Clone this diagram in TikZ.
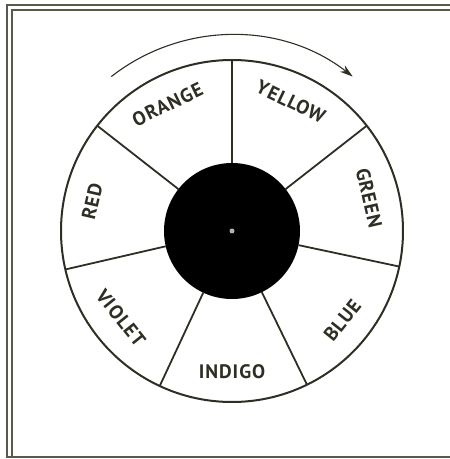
\documentclass[tikz,border=0pt]{standalone}
\usepackage{fontspec}
\newfontfamily\labfont[LetterSpace=5]{PT Sans}
\usetikzlibrary{arrows.meta}
\definecolor{framecol}{HTML}{5A5A4A}
\definecolor{inkcol}{HTML}{2E2E24}
\begin{document}
\begin{tikzpicture}[x=1pt,y=1pt,
  frameline/.style={draw=framecol,line width=1.2pt},
  rim/.style={circle,draw=inkcol,line width=2pt,inner sep=0pt,outer sep=0pt,minimum size=342pt},
  hubdisc/.style={circle,fill=black,inner sep=0pt,outer sep=0pt,minimum size=136pt},
  spoke/.style={draw=inkcol,line width=1.8pt},
  seglabel/.style={inner sep=0pt,text=inkcol,font=\labfont\bfseries\fontsize{19.5}{19.5}\selectfont},
  turnarrow/.style={draw=inkcol,line width=1.1pt,-{Stealth[length=13pt,width=8pt]}}]
\useasboundingbox (0,0) rectangle (450,459);
% frame
\draw[frameline] (450,454) -- (7,454) -- (7,2) -- (450,2);
\draw[frameline] (450,449) -- (12,449) -- (12,2);
% wheel
\coordinate (C) at (232,228);
\node[rim] (wheel) at (C) {};
\node[hubdisc] (hub) at (C) {};
\node[circle,fill=gray!60,inner sep=0pt,minimum size=5pt] (dot) at (C) {};
\foreach \k in {0,...,6}{
  \pgfmathsetmacro{\a}{90-\k*360/7}
  \draw[spoke] (hub.\a) -- (wheel.\a);
}
% labels
\begin{scope}[shift={(C)}]
\node[seglabel,rotate=25.71] (orange) at (117:142) {ORANGE};
\node[seglabel,rotate=-25.71] (yellow) at (65.5:142) {YELLOW};
\node[seglabel,rotate=-77.14] (green) at (13.5:141) {GREEN};
\node[seglabel,rotate=51.43] (blue) at (-39:142) {BLUE};
\node[seglabel,rotate=0] (indigo) at (-90:141) {INDIGO};
\node[seglabel,rotate=-51.43] (violet) at (-142:141) {VIOLET};
\node[seglabel,rotate=77.14] (red) at (168:143) {RED};
\coordinate (arrowstart) at (128:196);
\end{scope}
\draw[turnarrow] (arrowstart) arc[start angle=128,end angle=52,radius=196];
\end{tikzpicture}
\end{document}
